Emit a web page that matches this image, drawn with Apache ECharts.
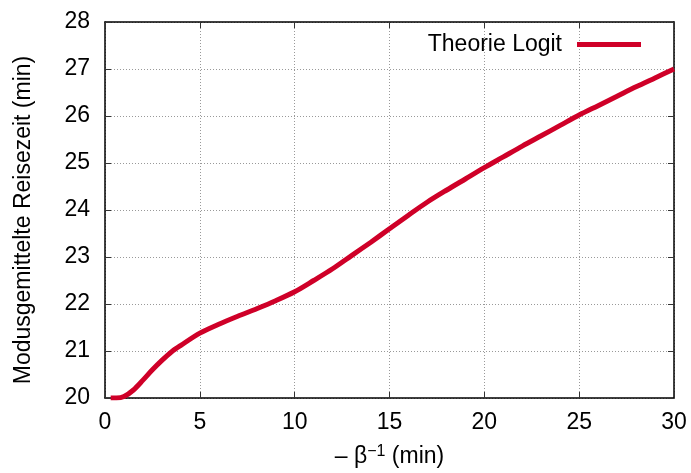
<!DOCTYPE html>
<html>
<head>
<meta charset="utf-8">
<title>Theorie Logit</title>
<script src="https://cdn.jsdelivr.net/npm/echarts@6/dist/echarts.min.js"></script>
<style>
  html, body { margin: 0; padding: 0; background: #fff; }
  #main { width: 691px; height: 473px; }
</style>
</head>
<body>
<div id="main"></div>
<script>
// - beta^-1 (min)
var betaInv = [0.3, 0.6, 1.0, 1.5, 2.0, 2.5, 3.0, 3.5, 4.0, 5.0, 6.0, 7.0, 8.0, 9.0, 10, 11, 12, 13, 14, 15,
               16, 17, 18, 19, 20, 21, 22, 23, 24, 25, 26, 27, 28, 29, 30];
// Modusgemittelte Reisezeit (min)
var reisezeit = [20.0, 20.0, 20.03, 20.17, 20.38, 20.6, 20.8, 20.98, 21.12, 21.38, 21.57, 21.74, 21.9, 22.07, 22.26, 22.5, 22.75, 23.03, 23.31, 23.6,
                 23.89, 24.17, 24.42, 24.66, 24.9, 25.13, 25.36, 25.58, 25.8, 26.02, 26.22, 26.42, 26.62, 26.81, 27.0];
var seriesName = 'Theorie Logit';

var pts = [];
for (var i = 0; i < betaInv.length; i++) {
  pts.push([betaInv[i], reisezeit[i]]);
}

var font = 'Liberation Sans, Arial, sans-serif';
var fs = 23;
var gridLine = { show: true, lineStyle: { color: '#999', type: [1, 2], width: 1 } };
var frame = { show: true, onZero: false, lineStyle: { color: '#000', width: 1.5 } };
var tick = { show: true, inside: true, length: 6, lineStyle: { color: '#333' } };

var chart = echarts.init(document.getElementById('main'));
chart.setOption({
  animation: false,
  backgroundColor: '#fff',
  textStyle: { fontFamily: font },
  grid: { left: 105, right: 17, top: 22, bottom: 75, outerBoundsMode: 'none' },
  legend: {
    data: [seriesName],
    right: 45, top: 28,
    align: 'right',
    itemWidth: 64, itemHeight: 5,
    icon: 'rect',
    textStyle: { fontSize: fs, color: '#000', fontFamily: font, padding: [0, 10, 0, 0] }
  },
  xAxis: [{
    type: 'value', min: 0, max: 30, interval: 5,
    axisLine: frame, axisTick: tick, splitLine: gridLine,
    axisLabel: { fontSize: fs, color: '#000', margin: 13 },
    name: '{a|– β}{s|−1}{a| (min)}',
    nameLocation: 'middle', nameGap: 46,
    nameTextStyle: {
      rich: {
        a: { fontSize: fs, color: '#000', fontFamily: font },
        s: { fontSize: 16, color: '#000', fontFamily: font, verticalAlign: 'top', padding: [0, 0, 10, 0] }
      }
    }
  }, {
    type: 'value', position: 'top', min: 0, max: 30, interval: 5,
    axisLine: frame, axisTick: tick, axisLabel: { show: false }, splitLine: { show: false }
  }],
  yAxis: [{
    type: 'value', min: 20, max: 28, interval: 1,
    axisLine: frame, axisTick: tick, splitLine: gridLine,
    axisLabel: { fontSize: fs, color: '#000', margin: 15 },
    name: 'Modusgemittelte Reisezeit (min)',
    nameLocation: 'middle', nameGap: 70, nameRotate: 90,
    nameTextStyle: { fontSize: fs, color: '#000', padding: [0, 20, 0, 0] }
  }, {
    type: 'value', position: 'right', min: 20, max: 28, interval: 1,
    axisLine: frame, axisTick: tick, axisLabel: { show: false }, splitLine: { show: false }
  }],
  series: [{
    name: seriesName,
    type: 'line',
    data: pts,
    smooth: 0.3,
    showSymbol: false,
    color: '#cf0028',
    lineStyle: { width: 5, color: '#cf0028' }
  }]
});
</script>
</body>
</html>
